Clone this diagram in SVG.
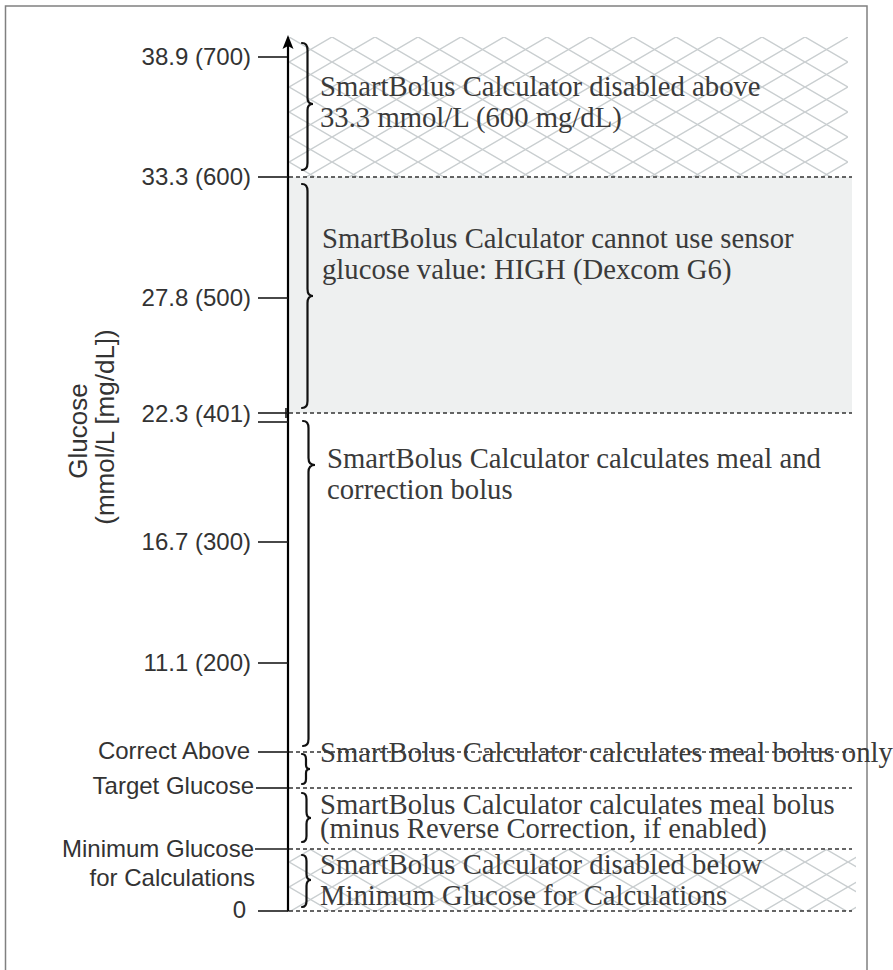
<svg xmlns="http://www.w3.org/2000/svg" width="893" height="970" viewBox="0 0 893 970">
<defs>
<pattern id="hatch" patternUnits="userSpaceOnUse" x="289" y="37" width="43" height="25">
<path d="M-2,-1.16 L45,26.16 M-2,26.16 L45,-1.16" stroke="#c9ced0" stroke-width="1.5" fill="none"/>
</pattern>
<style>
.tick{stroke:#1a1a1a;stroke-width:1.6;fill:none}
.dash{stroke:#333;stroke-width:1.5;stroke-dasharray:4 3;fill:none}
.brace{stroke:#111;stroke-width:2.2;fill:none;stroke-linecap:round}
.lab{font-family:"Liberation Sans",Arial,sans-serif;font-size:24px;fill:#333;text-anchor:end}
.title{font-family:"Liberation Sans",Arial,sans-serif;font-size:26px;fill:#333;text-anchor:middle}
.body{font-family:"Liberation Serif","Times New Roman",serif;font-size:28.7px;fill:#3a3a3a}
</style>
</defs>
<rect x="5.5" y="6" width="861.5" height="1000" fill="#fff" stroke="#808080" stroke-width="1.5"/>

<g id="regions">
<rect x="289" y="37" width="559" height="140" fill="url(#hatch)"/>
<rect x="289" y="177" width="563" height="236" fill="#eef0f0"/>
<rect x="289" y="849" width="567" height="62" fill="url(#hatch)"/>
</g>

<g id="connectors">
<line class="dash" x1="289" y1="177" x2="852" y2="177"/>
<line class="dash" x1="289" y1="413" x2="852" y2="413"/>
<line class="dash" x1="289" y1="752" x2="852" y2="752"/>
<line class="dash" x1="289" y1="788" x2="852" y2="788"/>
<line class="dash" x1="289" y1="849" x2="852" y2="849"/>
<line class="dash" x1="289" y1="911" x2="852" y2="911"/>
<line x1="288" y1="911.5" x2="288" y2="46" stroke="#000" stroke-width="2.2"/>
<path d="M288,35 L293.5,49 L288,46 L282.5,49 Z" fill="#000"/>
</g>

<g id="axis-title">
<text class="title" transform="translate(87,431) rotate(-90)">Glucose</text>
<text class="title" transform="translate(114,427) rotate(-90)">(mmol/L [mg/dL])</text>
</g>

<g id="tick-700"><line class="tick" x1="258" y1="57" x2="287" y2="57"/><text class="lab" x="251" y="65">38.9 (700)</text></g>
<g id="tick-600"><line class="tick" x1="258" y1="177" x2="288" y2="177"/><text class="lab" x="251" y="185">33.3 (600)</text></g>
<g id="tick-500"><line class="tick" x1="258" y1="298" x2="288" y2="298"/><text class="lab" x="251" y="306">27.8 (500)</text></g>
<g id="tick-401"><line class="tick" x1="258" y1="413" x2="288" y2="413"/><line class="tick" x1="258" y1="422" x2="288" y2="422"/><line class="tick" x1="286" y1="408" x2="286" y2="418"/><text class="lab" x="251" y="422">22.3 (401)</text></g>
<g id="tick-300"><line class="tick" x1="258" y1="542" x2="288" y2="542"/><text class="lab" x="251" y="550">16.7 (300)</text></g>
<g id="tick-200"><line class="tick" x1="258" y1="663" x2="288" y2="663"/><text class="lab" x="251" y="671">11.1 (200)</text></g>
<g id="tick-correct"><line class="tick" x1="258" y1="752" x2="288" y2="752"/><text class="lab" x="250" y="759">Correct Above</text></g>
<g id="tick-target"><line class="tick" x1="256" y1="788" x2="288" y2="788"/><text class="lab" x="254" y="794">Target Glucose</text></g>
<g id="tick-min"><line class="tick" x1="255" y1="849" x2="288" y2="849"/><text class="lab" x="254" y="857">Minimum Glucose</text><text class="lab" x="255" y="886">for Calculations</text></g>
<g id="tick-0"><line class="tick" x1="258" y1="911" x2="288" y2="911"/><text class="lab" x="246" y="918">0</text></g>

<g id="range-disabled-above">
<path class="brace" d="M302,43 Q307.5,43 307.5,50 L307.5,98 Q307.5,104 313,104 Q307.5,104 307.5,110 L307.5,163 Q307.5,170 302,170"/>
<text class="body" x="320" y="96">SmartBolus Calculator disabled above</text>
<text class="body" x="320" y="127">33.3 mmol/L (600 mg/dL)</text>
</g>
<g id="range-high">
<path class="brace" d="M302,184 Q307.5,184 307.5,191 L307.5,289 Q307.5,296 313,296 Q307.5,296 307.5,303 L307.5,401 Q307.5,408 302,408"/>
<text class="body" x="322" y="248">SmartBolus Calculator cannot use sensor</text>
<text class="body" x="322" y="279">glucose value: HIGH (Dexcom G6)</text>
</g>
<g id="range-meal-correction">
<path class="brace" d="M303,421 Q308.5,421 308.5,428 L308.5,458 Q308.5,465 315,465 Q308.5,465 308.5,472 L308.5,739 Q308.5,746 303,746"/>
<text class="body" x="327" y="468">SmartBolus Calculator calculates meal and</text>
<text class="body" x="327" y="499">correction bolus</text>
</g>
<g id="range-meal-only">
<path class="brace" d="M302,754 Q306,754 306,759 L306,765 Q306,769 310,769 Q306,769 306,773 L306,779 Q306,784 302,784"/>
<text class="body" x="320" y="762">SmartBolus Calculator calculates meal bolus only</text>
</g>
<g id="range-meal-minus">
<path class="brace" d="M302,793 Q306.5,793 306.5,799 L306.5,812 Q306.5,818 311,818 Q306.5,818 306.5,824 L306.5,836 Q306.5,842 302,842"/>
<text class="body" x="320" y="814">SmartBolus Calculator calculates meal bolus</text>
<text class="body" x="320" y="838">(minus Reverse Correction, if enabled)</text>
</g>
<g id="range-disabled-below">
<path class="brace" d="M302,855 Q306.5,855 306.5,861 L306.5,874 Q306.5,880 311,880 Q306.5,880 306.5,886 L306.5,901 Q306.5,907 302,907"/>
<text class="body" x="320" y="874">SmartBolus Calculator disabled below</text>
<text class="body" x="320" y="905">Minimum Glucose for Calculations</text>
</g>
</svg>
